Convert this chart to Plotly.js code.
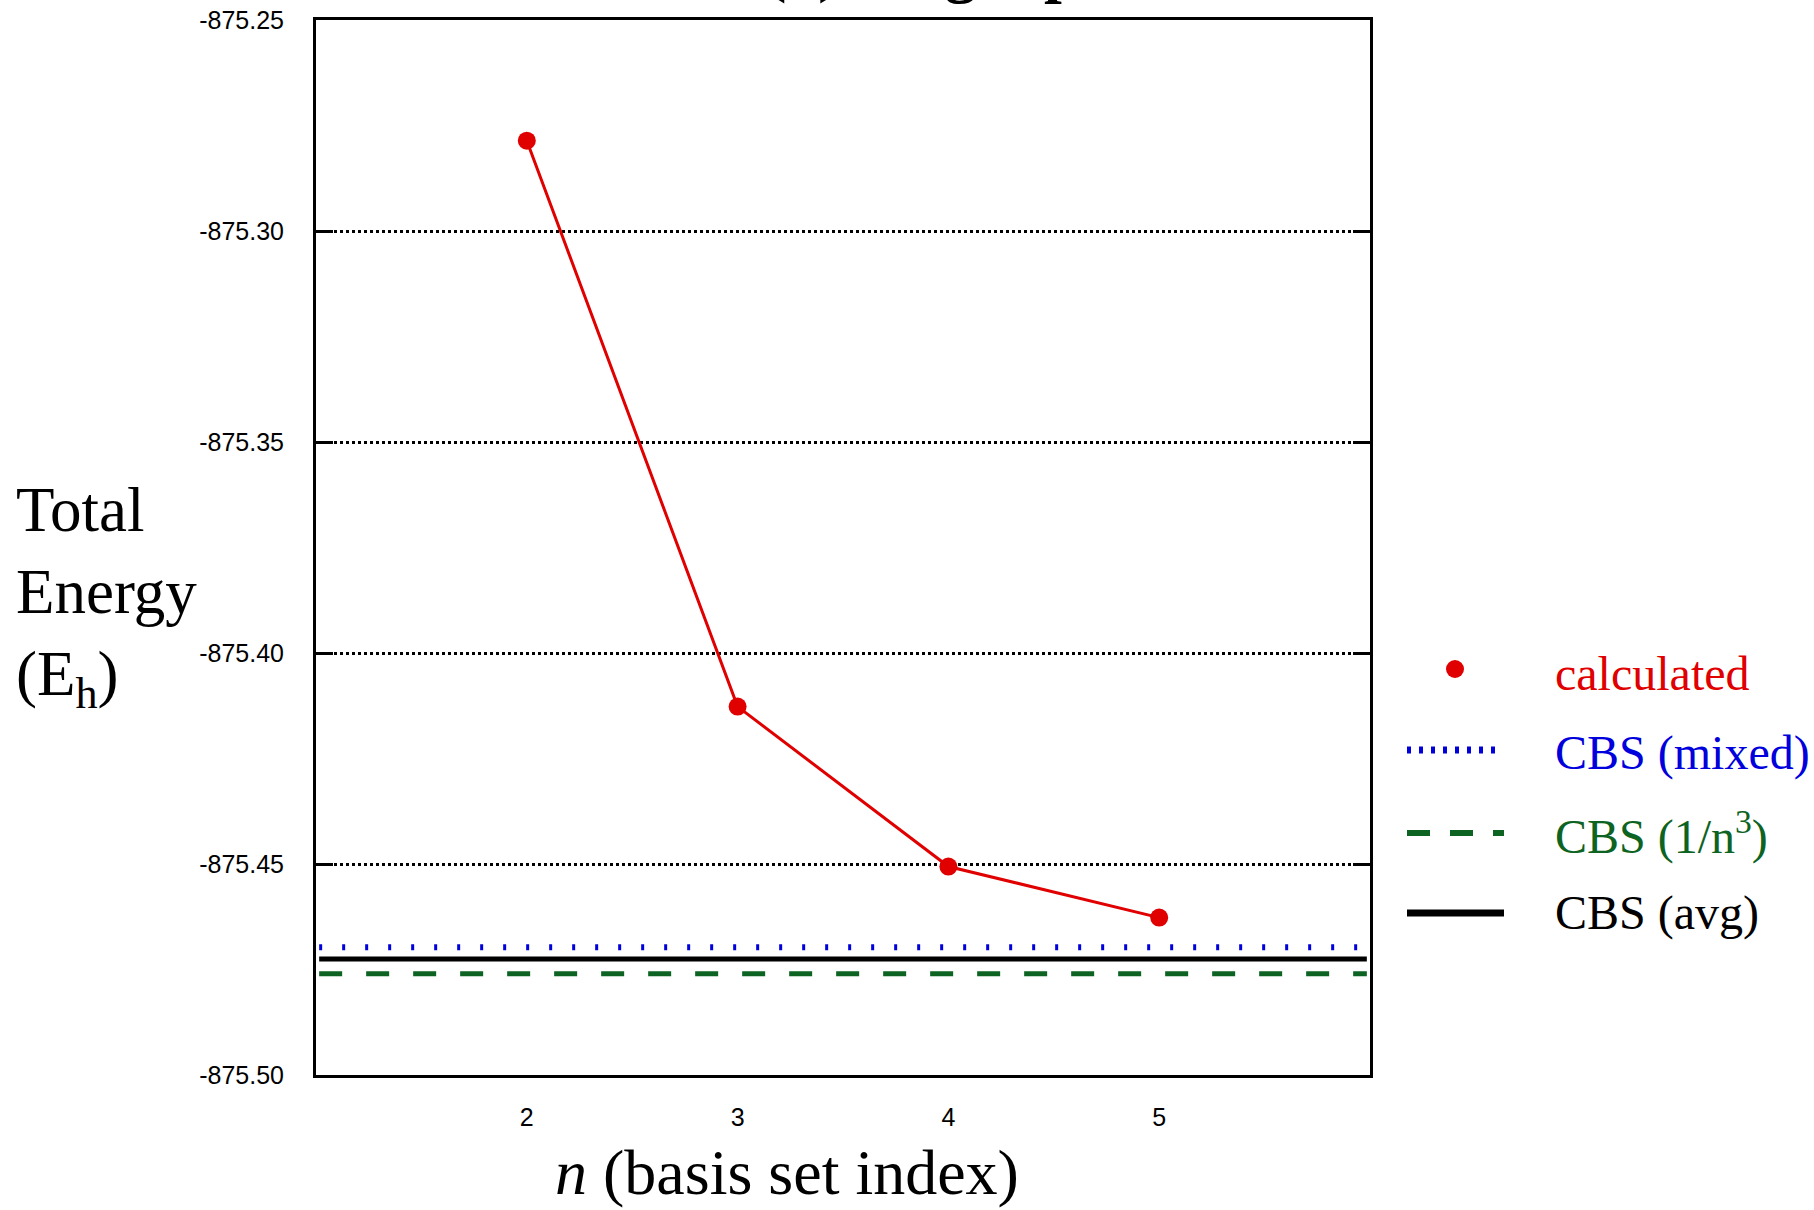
<!DOCTYPE html>
<html>
<head>
<meta charset="utf-8">
<script src="https://cdn.plot.ly/plotly-3.0.1.min.js"></script>
<style>
  html, body { margin: 0; padding: 0; background: #ffffff; }
  #chart { width: 1814px; height: 1210px; }
</style>
</head>
<body>
<div id="chart"></div>
<script>
// ---- data ----
const nValues = [2, 3, 4, 5];
const energyCalculated = [-875.2786, -875.4127, -875.4506, -875.4627];
const cbsMixed = -875.4697;
const cbsInvN3 = -875.4760;
const cbsAvg = -875.4725;
const yTickVals = [-875.50, -875.45, -875.40, -875.35, -875.30, -875.25];
const yTickText = ["-875.50", "-875.45", "-875.40", "-875.35", "-875.30", "-875.25"];
const xTickVals = [2, 3, 4, 5];
const xTickText = ["2", "3", "4", "5"];
const legendNames = ["calculated", "CBS (mixed)", "CBS (1/n<sup>3</sup>)", "CBS (avg)"];
const titleText = "(a) Single-point";
const xTitleText = "<i>n</i> (basis set index)";
const yTitleText = "Total<br>Energy<br>(E<sub>h</sub>)";

// ---- geometry helpers (pixel -> paper) ----
const W = 1814, H = 1210;
const L = 316, R = 1370, T = 20, B = 1075;
const px = x => (x - L) / (R - L);
const py = y => (B - y) / (B - T);

const RED = '#e00000', BLUE = '#0000dd', GREEN = '#0d6322', BLACK = '#000000';
const serif = '"Liberation Serif", "Times New Roman", serif';
const sans = '"Liberation Sans", Arial, Helvetica, sans-serif';

const traces = [{
  x: nValues,
  y: energyCalculated,
  type: 'scatter',
  mode: 'lines+markers',
  line: { color: RED, width: 3 },
  marker: { color: RED, size: 18 },
  showlegend: false,
  cliponaxis: false
}];

const shapes = [
  // CBS horizontal reference lines (y from data)
  { type: 'line', xref: 'paper', yref: 'y', x0: 0.003, x1: 0.997, y0: cbsMixed, y1: cbsMixed,
    line: { color: BLUE, width: 6, dash: '3px,20px' } },
  { type: 'line', xref: 'paper', yref: 'y', x0: 0.003, x1: 0.997, y0: cbsAvg, y1: cbsAvg,
    line: { color: BLACK, width: 5 } },
  { type: 'line', xref: 'paper', yref: 'y', x0: 0.003, x1: 0.997, y0: cbsInvN3, y1: cbsInvN3,
    line: { color: GREEN, width: 5, dash: '23px,24px' } },
  // legend symbols
  { type: 'circle', xref: 'paper', yref: 'paper', x0: px(1446), x1: px(1464), y0: py(678), y1: py(660),
    fillcolor: RED, line: { width: 0 } },
  { type: 'line', xref: 'paper', yref: 'paper', x0: px(1407), x1: px(1500), y0: py(750), y1: py(750),
    line: { color: BLUE, width: 7, dash: '4px,8px' } },
  { type: 'line', xref: 'paper', yref: 'paper', x0: px(1407), x1: px(1504), y0: py(833), y1: py(833),
    line: { color: GREEN, width: 6, dash: '23px,20px' } },
  { type: 'line', xref: 'paper', yref: 'paper', x0: px(1407), x1: px(1504), y0: py(913), y1: py(913),
    line: { color: BLACK, width: 7 } }
];

const legendColors = [RED, BLUE, GREEN, BLACK];
const legendY = [673, 753, 833, 913];
const annotations = legendNames.map((name, i) => ({
  text: name, xref: 'paper', yref: 'paper', x: px(1553), y: py(legendY[i]),
  xanchor: 'left', yanchor: 'middle', showarrow: false,
  font: { family: serif, size: 48, color: legendColors[i] }
}));

annotations.push({
  text: yTitleText, xref: 'paper', yref: 'paper', x: px(14), y: py(596),
  xanchor: 'left', yanchor: 'middle', align: 'left', showarrow: false,
  font: { family: serif, size: 63, color: BLACK }
});
annotations.push({
  text: xTitleText, xref: 'paper', yref: 'paper', x: px(787), y: py(1172),
  xanchor: 'center', yanchor: 'middle', showarrow: false,
  font: { family: serif, size: 64, color: BLACK }
});
annotations.push({
  text: '<b>' + titleText + '</b>', xref: 'paper', yref: 'paper', x: px(763), y: py(6),
  xanchor: 'left', yanchor: 'bottom', showarrow: false,
  font: { family: serif, size: 64, color: BLACK }
});

const layout = {
  width: W, height: H,
  margin: { l: L, r: W - R, t: T, b: H - B, pad: 0 },
  paper_bgcolor: '#ffffff', plot_bgcolor: '#ffffff',
  showlegend: false,
  xaxis: {
    range: [1, 6], tickvals: xTickVals, ticktext: xTickText,
    showgrid: false, zeroline: false,
    showline: true, linecolor: BLACK, linewidth: 3, mirror: true,
    ticks: '', ticklabelstandoff: 18,
    tickfont: { family: sans, size: 25, color: BLACK }
  },
  yaxis: {
    range: [-875.50, -875.25], tickvals: yTickVals, ticktext: yTickText,
    showgrid: true, gridcolor: BLACK, gridwidth: 3, griddash: 'dot',
    zeroline: false,
    showline: true, linecolor: BLACK, linewidth: 3, mirror: 'ticks',
    ticks: 'inside', ticklen: 17, tickwidth: 3, tickcolor: BLACK,
    ticklabelstandoff: 24,
    tickfont: { family: sans, size: 25, color: BLACK }
  },
  shapes: shapes,
  annotations: annotations
};

Plotly.newPlot('chart', traces, layout, { displayModeBar: false, staticPlot: true });
</script>
</body>
</html>
